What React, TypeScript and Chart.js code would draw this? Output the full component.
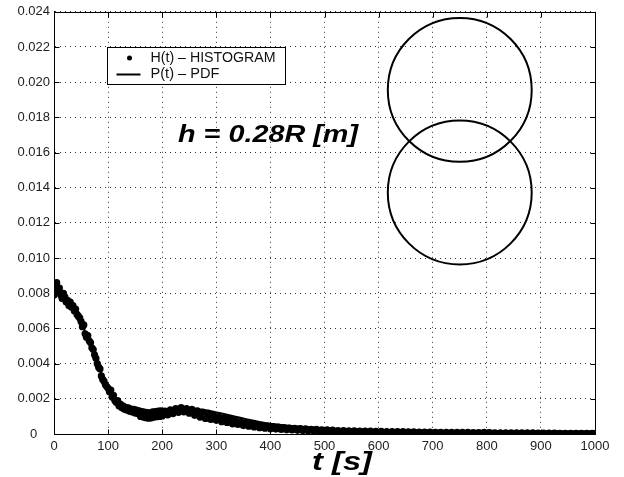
import { useEffect, useRef } from "react";
import { Chart, registerables } from "chart.js";

Chart.register(...registerables);

// ---------------- data ----------------
// histogram bin centres (2.5 s bins up to 200 s, 5 s bins after)
const histT = [
  0, 2.5, 5, 7.5, 10, 12.5, 15, 17.5, 20, 22.5,
  25, 27.5, 30, 32.5, 35, 37.5, 40, 42.5, 45, 47.5,
  50, 52.5, 55, 57.5, 60, 62.5, 65, 67.5, 70, 72.5,
  75, 77.5, 80, 82.5, 85, 87.5, 90, 92.5, 95, 97.5,
  100, 102.5, 105, 107.5, 110, 112.5, 115, 117.5, 120, 122.5,
  125, 127.5, 130, 132.5, 135, 137.5, 140, 142.5, 145, 147.5,
  150, 152.5, 155, 157.5, 160, 162.5, 165, 167.5, 170, 172.5,
  175, 177.5, 180, 182.5, 185, 187.5, 190, 192.5, 195, 197.5,
  200, 205, 210, 215, 220, 225, 230, 235, 240, 245,
  250, 255, 260, 265, 270, 275, 280, 285, 290, 295,
  300, 305, 310, 315, 320, 325, 330, 335, 340, 345,
  350, 355, 360, 365, 370, 375, 380, 385, 390, 395,
  400, 405, 410, 415, 420, 425, 430, 435, 440, 445,
  450, 455, 460, 465, 470, 475, 480, 485, 490, 495,
  500, 505, 510, 515, 520, 525, 530, 535, 540, 545,
  550, 555, 560, 565, 570, 575, 580, 585, 590, 595,
  600, 605, 610, 615, 620, 625, 630, 635, 640, 645,
  650, 655, 660, 665, 670, 675, 680, 685, 690, 695,
  700, 705, 710, 715, 720, 725, 730, 735, 740, 745,
  750, 755, 760, 765, 770, 775, 780, 785, 790, 795,
  800, 805, 810, 815, 820, 825, 830, 835, 840, 845,
  850, 855, 860, 865, 870, 875, 880, 885, 890, 895,
  900, 905, 910, 915, 920, 925, 930, 935, 940, 945,
  950, 955, 960, 965, 970, 975, 980, 985, 990, 995,
  1000,
];

const histH = [
  0.0079, 0.0084, 0.0086, 0.0082, 0.0083, 0.0079, 0.0077, 0.0080, 0.0078, 0.0075,
  0.0076, 0.0073, 0.0075, 0.0072, 0.0073, 0.0070, 0.0071, 0.0068, 0.0067, 0.0066,
  0.0064, 0.0061, 0.0062, 0.0057, 0.0055, 0.0056, 0.0053, 0.0052, 0.0049, 0.0048,
  0.0045, 0.0043, 0.0040, 0.0038, 0.0037, 0.0033, 0.0031, 0.0030, 0.0028, 0.0027,
  0.0026, 0.0024, 0.0025, 0.0021, 0.0022, 0.0019, 0.0018, 0.0019, 0.0016, 0.0017,
  0.0015, 0.0016, 0.0014, 0.00152, 0.00135, 0.00148, 0.0013, 0.00142, 0.00125, 0.0014,
  0.0012, 0.00136, 0.00115, 0.00132, 0.001, 0.00127, 0.00096, 0.00124, 0.00093, 0.00122,
  0.0009, 0.0012, 0.00092, 0.00126, 0.00096, 0.00128, 0.00098, 0.0013, 0.001, 0.00132,
  0.00103, 0.0013, 0.00108, 0.00137, 0.00116, 0.00144, 0.00123, 0.0015, 0.00126, 0.00144,
  0.00118, 0.0014, 0.00106, 0.00132, 0.00096, 0.00124, 0.00088, 0.00117, 0.00083, 0.00107,
  0.00078, 0.00098, 0.0007, 0.00092, 0.00066, 0.00085, 0.00058, 0.00078, 0.00054, 0.0007,
  0.00048, 0.00064, 0.00044, 0.00058, 0.0004, 0.00052, 0.00036, 0.00048, 0.00033, 0.00045,
  0.0003, 0.00042, 0.00028, 0.00039, 0.00026, 0.00036, 0.00024, 0.00034, 0.00023, 0.00032,
  0.00021, 0.0003, 0.0002, 0.00029, 0.00018, 0.00027, 0.00017, 0.00026, 0.00016, 0.00024,
  0.00015, 0.00024, 0.00014, 0.00022, 0.00013, 0.0002, 0.00012, 0.00019, 0.00011, 0.00018,
  0.00011, 0.00018, 0.0001, 0.00017, 0.0001, 0.00016, 0.00009, 0.00016, 0.00009, 0.00015,
  0.00008, 0.00015, 0.00008, 0.00014, 0.00008, 0.00014, 0.00007, 0.00013, 0.00007, 0.00013,
  0.00006, 0.00012, 0.00006, 0.00012, 0.00006, 0.00011, 0.00005, 0.00011, 0.00005, 0.00011,
  0.00005, 0.0001, 0.00005, 0.0001, 0.00004, 0.0001, 0.00004, 0.00009, 0.00004, 0.00009,
  0.00004, 0.00009, 0.00003, 0.00009, 0.00003, 0.00008, 0.00003, 0.00008, 0.00003, 0.00009,
  0.00003, 0.00008, 0.00003, 0.00007, 0.00002, 0.00007, 0.00002, 0.00007, 0.00002, 0.00007,
  0.00002, 0.00006, 0.00002, 0.00006, 0.00002, 0.00006, 0.00001, 0.00006, 0.00001, 0.00005,
  0.00001, 0.00005, 0.00001, 0.00005, 0.00001, 0.00005, 0.00001, 0.00004, 0.00001, 0.00004,
  0.00001, 0.00004, 0.00001, 0.00004, 0.00001, 0.00004, 0.00001, 0.00003, 0.00001, 0.00003,
  0.00002,
];

const pdfT = [
  0, 10, 20, 30, 40, 50, 60, 70, 80, 90,
  100, 110, 120, 130, 140, 150, 160, 170, 180, 190,
  200, 210, 220, 230, 240, 250, 260, 270, 280, 290,
  300, 310, 320, 330, 340, 350, 360, 370, 380, 390,
  400, 450, 500, 550, 600, 650, 700, 750, 800, 850,
  900, 950, 1000,
];

const pdfP = [
  0.0080, 0.0079, 0.0077, 0.0074, 0.0070, 0.0064, 0.0056, 0.0048, 0.0040, 0.0032,
  0.0026, 0.0021, 0.0018, 0.0016, 0.00145, 0.00135, 0.0013, 0.00128, 0.00128, 0.0013,
  0.00133, 0.00137, 0.0014, 0.00143, 0.00145, 0.00145, 0.00143, 0.0014, 0.00135, 0.0013,
  0.00123, 0.00116, 0.00109, 0.00102, 0.00095, 0.00088, 0.00081, 0.00075, 0.00069, 0.00063,
  0.00058, 0.00042, 0.00033, 0.00027, 0.00022, 0.00018, 0.00015, 0.00013, 0.00011, 0.0001,
  0.00009, 0.00008, 0.00007,
];

const xTicks = [0, 100, 200, 300, 400, 500, 600, 700, 800, 900, 1000];
const yTicks = [0, 0.002, 0.004, 0.006, 0.008, 0.01, 0.012, 0.014, 0.016, 0.018, 0.02, 0.022, 0.024];

const circleT = [750, 750];
const circleH = [0.01956, 0.01373];
const circleRadiusT = [133, 133];

const seriesLabels = ["H(t) \u2013 HISTOGRAM", "P(t) \u2013 PDF"];
const annotationText = "h = 0.28R [m]";
const xTitleText = "t [s]";

const FONT = "'Liberation Sans', Arial, Helvetica, sans-serif";

function drawStretched(
  ctx: CanvasRenderingContext2D,
  text: string,
  x: number,
  y: number,
  targetWidth: number
) {
  const w = ctx.measureText(text).width;
  const s = w > 0 ? targetWidth / w : 1;
  ctx.save();
  ctx.translate(x, y);
  ctx.scale(s, 1);
  ctx.fillText(text, 0, 0);
  ctx.restore();
}

const matlabPlugin = {
  id: "matlabDecor",
  afterDatasetsDraw(chart: any) {
    const ctx: CanvasRenderingContext2D = chart.ctx;
    const area = chart.chartArea;
    const xs = chart.scales.x;
    const ys = chart.scales.y;
    ctx.save();

    // circles
    ctx.strokeStyle = "#000";
    ctx.lineWidth = 2;
    for (let i = 0; i < circleT.length; i++) {
      const cx = xs.getPixelForValue(circleT[i]);
      const cy = ys.getPixelForValue(circleH[i]);
      const r = xs.getPixelForValue(circleT[i] + circleRadiusT[i]) - cx;
      ctx.beginPath();
      ctx.arc(cx, cy, r, 0, Math.PI * 2);
      ctx.stroke();
    }

    // frame
    ctx.lineWidth = 1;
    ctx.strokeStyle = "#000";
    const L = Math.round(area.left) + 0.5;
    const R = Math.round(area.right) + 0.5;
    const T = Math.round(area.top) + 0.5;
    const B = Math.round(area.bottom) + 0.5;
    ctx.strokeRect(L, T, R - L, B - T);

    // inward tick marks
    const tl = 5;
    ctx.beginPath();
    xTicks.forEach((v) => {
      const px = Math.round(xs.getPixelForValue(v)) + 0.5;
      ctx.moveTo(px, B);
      ctx.lineTo(px, B - tl);
      ctx.moveTo(px, T);
      ctx.lineTo(px, T + tl);
    });
    yTicks.forEach((v) => {
      const py = Math.round(ys.getPixelForValue(v)) + 0.5;
      ctx.moveTo(L, py);
      ctx.lineTo(L + tl, py);
      ctx.moveTo(R, py);
      ctx.lineTo(R - tl, py);
    });
    ctx.stroke();

    // legend box
    const bx = Math.round(area.left) + 53.5;
    const by = Math.round(area.top) + 35.5;
    const bw = 178;
    const bh = 37;
    ctx.fillStyle = "#fff";
    ctx.fillRect(bx, by, bw, bh);
    ctx.strokeRect(bx, by, bw, bh);
    ctx.fillStyle = "#000";
    ctx.beginPath();
    ctx.arc(bx + 22, by + 10.5, 2.5, 0, Math.PI * 2);
    ctx.fill();
    ctx.lineWidth = 2;
    ctx.beginPath();
    ctx.moveTo(bx + 9, by + 27);
    ctx.lineTo(bx + 33, by + 27);
    ctx.stroke();
    ctx.font = `14px ${FONT}`;
    ctx.textBaseline = "middle";
    ctx.textAlign = "left";
    ctx.fillStyle = "#111";
    drawStretched(ctx, seriesLabels[0], bx + 43, by + 11, 125);
    drawStretched(ctx, seriesLabels[1], bx + 43, by + 27, 69);

    // annotation
    ctx.fillStyle = "#000";
    ctx.textBaseline = "alphabetic";
    ctx.font = `italic bold 24px ${FONT}`;
    drawStretched(ctx, annotationText, area.left + 124, area.top + 130, 180);

    // x title
    ctx.font = `italic bold 26px ${FONT}`;
    drawStretched(ctx, xTitleText, area.left + 258, area.bottom + 36, 60);

    ctx.restore();
  },
};

export default function App() {
  const ref = useRef<HTMLCanvasElement>(null);

  useEffect(() => {
    document.body.style.margin = "0";
    const canvas = ref.current;
    if (!canvas) return;

    const histData = histT.map((t, i) => ({ x: t, y: histH[i] }));
    const pdfData = pdfT.map((t, i) => ({ x: t, y: pdfP[i] }));

    const chart = new Chart(canvas, {
      type: "scatter",
      data: {
        datasets: [
          {
            label: seriesLabels[0],
            data: histData,
            showLine: false,
            pointRadius: 3.6,
            pointBorderWidth: 0,
            pointBackgroundColor: "#000",
            pointBorderColor: "#000",
            backgroundColor: "#000",
          },
          {
            label: seriesLabels[1],
            data: pdfData,
            showLine: true,
            pointRadius: 0,
            borderColor: "#000",
            borderWidth: 2,
            cubicInterpolationMode: "monotone",
          } as any,
        ],
      },
      options: {
        responsive: false,
        animation: false,
        devicePixelRatio: 1,
        layout: { padding: { left: 0, right: 29, top: 10, bottom: 0 } },
        plugins: {
          legend: { display: false },
          tooltip: { enabled: false },
        },
        scales: {
          x: {
            type: "linear",
            min: 0,
            max: 1000,
            afterBuildTicks: (s: any) => {
              s.ticks = xTicks.map((v) => ({ value: v }));
            },
            afterFit: (s: any) => {
              s.height = 43;
            },
            ticks: {
              autoSkip: false,
              maxRotation: 0,
              minRotation: 0,
              padding: 5,
              color: "#222",
              font: { family: FONT, size: 13 },
              callback: (v: any) => String(v),
            },
            grid: { color: "#333", lineWidth: 1, drawTicks: false },
            border: { display: true, color: "#000", width: 1, dash: [1, 4] },
          },
          y: {
            type: "linear",
            min: 0,
            max: 0.024,
            afterBuildTicks: (s: any) => {
              s.ticks = yTicks.map((v) => ({ value: v }));
            },
            afterFit: (s: any) => {
              s.width = 54;
            },
            ticks: {
              autoSkip: false,
              padding: 4,
              crossAlign: "center",
              color: "#222",
              font: { family: FONT, size: 13 },
              callback: (v: any) => (Number(v) === 0 ? "0" : Number(v).toFixed(3)),
            },
            grid: { color: "#333", lineWidth: 1, drawTicks: false },
            border: { display: true, color: "#000", width: 1, dash: [1, 4] },
          },
        },
      },
      plugins: [matlabPlugin],
    });

    return () => chart.destroy();
  }, []);

  return (
    <div style={{ width: 624, height: 477, background: "#fff" }}>
      <canvas ref={ref} width={624} height={477} style={{ display: "block" }} />
    </div>
  );
}
